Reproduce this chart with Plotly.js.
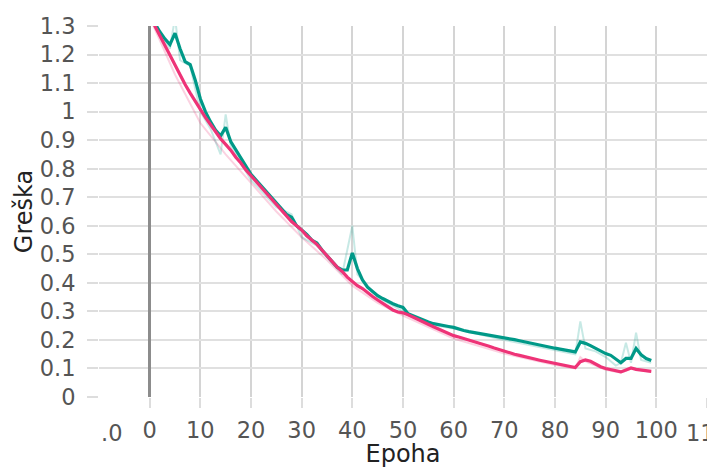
<!DOCTYPE html>
<html>
<head>
<meta charset="utf-8">
<script src="https://cdn.plot.ly/plotly-3.0.1.min.js"></script>
<style>html,body{margin:0;padding:0;background:#fff;}#chart{width:707px;height:468px;}</style>
</head>
<body>
<div id="chart"></div>
<script>
// Epochs
const epochs = [0,1,2,3,4,5,6,7,8,9,10,11,12,13,14,15,16,17,18,19,20,21,22,23,24,25,26,27,28,29,30,31,32,33,34,35,36,37,38,39,40,41,42,43,44,45,46,47,48,49,50,51,52,53,54,55,56,57,58,59,60,61,62,63,64,65,66,67,68,69,70,71,72,73,74,75,76,77,78,79,80,81,82,83,84,85,86,87,88,89,90,91,92,93,94,95,96,97,98,99];

// Smoothed loss, teal run
const tealSmooth = [1.335,1.31,1.28,1.255,1.235,1.275,1.22,1.175,1.165,1.11,1.045,1.0,0.965,0.935,0.915,0.945,0.895,0.865,0.835,0.805,0.78,0.76,0.74,0.72,0.70,0.68,0.66,0.64,0.63,0.60,0.585,0.57,0.55,0.54,0.515,0.495,0.475,0.455,0.445,0.445,0.505,0.45,0.41,0.385,0.37,0.355,0.345,0.335,0.327,0.32,0.314,0.292,0.284,0.276,0.269,0.263,0.257,0.253,0.25,0.247,0.244,0.238,0.233,0.229,0.226,0.223,0.22,0.217,0.214,0.212,0.209,0.205,0.201,0.197,0.193,0.189,0.186,0.182,0.178,0.175,0.171,0.168,0.165,0.161,0.158,0.193,0.188,0.18,0.17,0.16,0.152,0.146,0.132,0.12,0.135,0.135,0.17,0.148,0.135,0.128];

// Smoothed loss, pink run
const pinkSmooth = [1.335,1.30,1.265,1.23,1.195,1.16,1.13,1.095,1.065,1.035,1.005,0.98,0.955,0.93,0.905,0.885,0.865,0.84,0.82,0.795,0.775,0.755,0.735,0.715,0.695,0.675,0.655,0.635,0.615,0.60,0.585,0.565,0.55,0.535,0.515,0.495,0.475,0.455,0.44,0.42,0.405,0.39,0.38,0.365,0.352,0.34,0.328,0.316,0.305,0.298,0.295,0.288,0.279,0.27,0.262,0.255,0.246,0.238,0.23,0.222,0.215,0.21,0.205,0.20,0.195,0.19,0.184,0.178,0.172,0.166,0.16,0.155,0.15,0.146,0.141,0.137,0.133,0.129,0.125,0.121,0.118,0.114,0.11,0.106,0.103,0.124,0.13,0.125,0.115,0.106,0.10,0.096,0.092,0.088,0.095,0.102,0.097,0.095,0.092,0.09];

// Raw (unsmoothed) loss, read at visible points
const tealRawX = [0,4,5,6,8,10,12,14,15,16,20,25,28,30,33,38,40,41,45,50,55,60,70,80,84,85,86,88,90,92,93,94,95,96,97,99];
const tealRaw  = [1.34,1.22,1.33,1.18,1.16,1.0,0.94,0.85,0.99,0.88,0.76,0.665,0.64,0.56,0.53,0.43,0.60,0.43,0.35,0.30,0.255,0.24,0.20,0.165,0.15,0.265,0.17,0.16,0.14,0.11,0.12,0.19,0.12,0.225,0.13,0.12];
const pinkRawX = [0,5,10,15,20,25,30,35,40,45,50,60,70,80,84,85,86,90,93,95,99];
const pinkRaw  = [1.33,1.13,0.96,0.85,0.75,0.65,0.56,0.48,0.39,0.33,0.285,0.205,0.152,0.112,0.10,0.14,0.125,0.095,0.085,0.1,0.088];

// Axis ticks
const xTickVals = [0,10,20,30,40,50,60,70,80,90,100,110];
const xTickText = ['0','10','20','30','40','50','60','70','80','90','100','110'];
const yTickVals = [0,0.1,0.2,0.3,0.4,0.5,0.6,0.7,0.8,0.9,1,1.1,1.2,1.3];
const yTickText = ['0','0.1','0.2','0.3','0.4','0.5','0.6','0.7','0.8','0.9','1','1.1','1.2','1.3'];
const xEdgeLabels = [{x: -10, text: '.0', anchor: 'left'}, {x: 110, text: '110', anchor: 'center'}];

const TEAL = '#009988';
const PINK = '#EE3377';
const FAMILY = 'DejaVu Sans, Verdana, sans-serif';

const traces = [
  {x: pinkRawX, y: pinkRaw, mode: 'lines', line: {color: PINK, width: 2}, opacity: 0.22, hoverinfo: 'skip'},
  {x: tealRawX, y: tealRaw, mode: 'lines', line: {color: TEAL, width: 2}, opacity: 0.22, hoverinfo: 'skip'},
  {x: epochs, y: tealSmooth, mode: 'lines', line: {color: TEAL, width: 3.2}},
  {x: epochs, y: pinkSmooth, mode: 'lines', line: {color: PINK, width: 3.2}}
];

const tickFont = {family: FAMILY, size: 22.5, color: '#555'};
const titleFont = {family: FAMILY, size: 24, color: '#222'};

const layout = {
  width: 707, height: 468,
  margin: {l: 99, r: 0, t: 26, b: 71},
  paper_bgcolor: '#fff', plot_bgcolor: '#fff',
  showlegend: false,
  font: tickFont,
  xaxis: {
    range: [-10, 110],
    tickvals: xTickVals, ticktext: xTickText,
    ticks: 'outside', ticklen: 10, tickcolor: '#ddd', tickwidth: 2,
    ticklabelstandoff: 3,
    showgrid: true, gridcolor: '#d4d4d4', gridwidth: 2,
    zeroline: true, zerolinecolor: '#8c8c8c', zerolinewidth: 2.5,
    showline: false,
    title: {text: 'Epoha', font: titleFont, standoff: 3},
    tickfont: tickFont
  },
  yaxis: {
    range: [0, 1.3],
    tickvals: yTickVals, ticktext: yTickText,
    ticks: 'outside', ticklen: 11, tickcolor: '#ddd', tickwidth: 2,
    ticklabelstandoff: 7,
    showgrid: true, gridcolor: '#e0e0e0', gridwidth: 2,
    zeroline: false, showline: false,
    title: {text: 'Greška', font: titleFont, standoff: 0},
    tickfont: tickFont
  },
  annotations: xEdgeLabels.map(l => ({
    x: l.x, y: 0, xref: 'x', yref: 'paper', text: l.text, showarrow: false,
    xanchor: l.anchor, yanchor: 'top', yshift: -21, font: tickFont
  }))
};

Plotly.newPlot('chart', traces, layout, {displayModeBar: false, staticPlot: true});
</script>
</body>
</html>
